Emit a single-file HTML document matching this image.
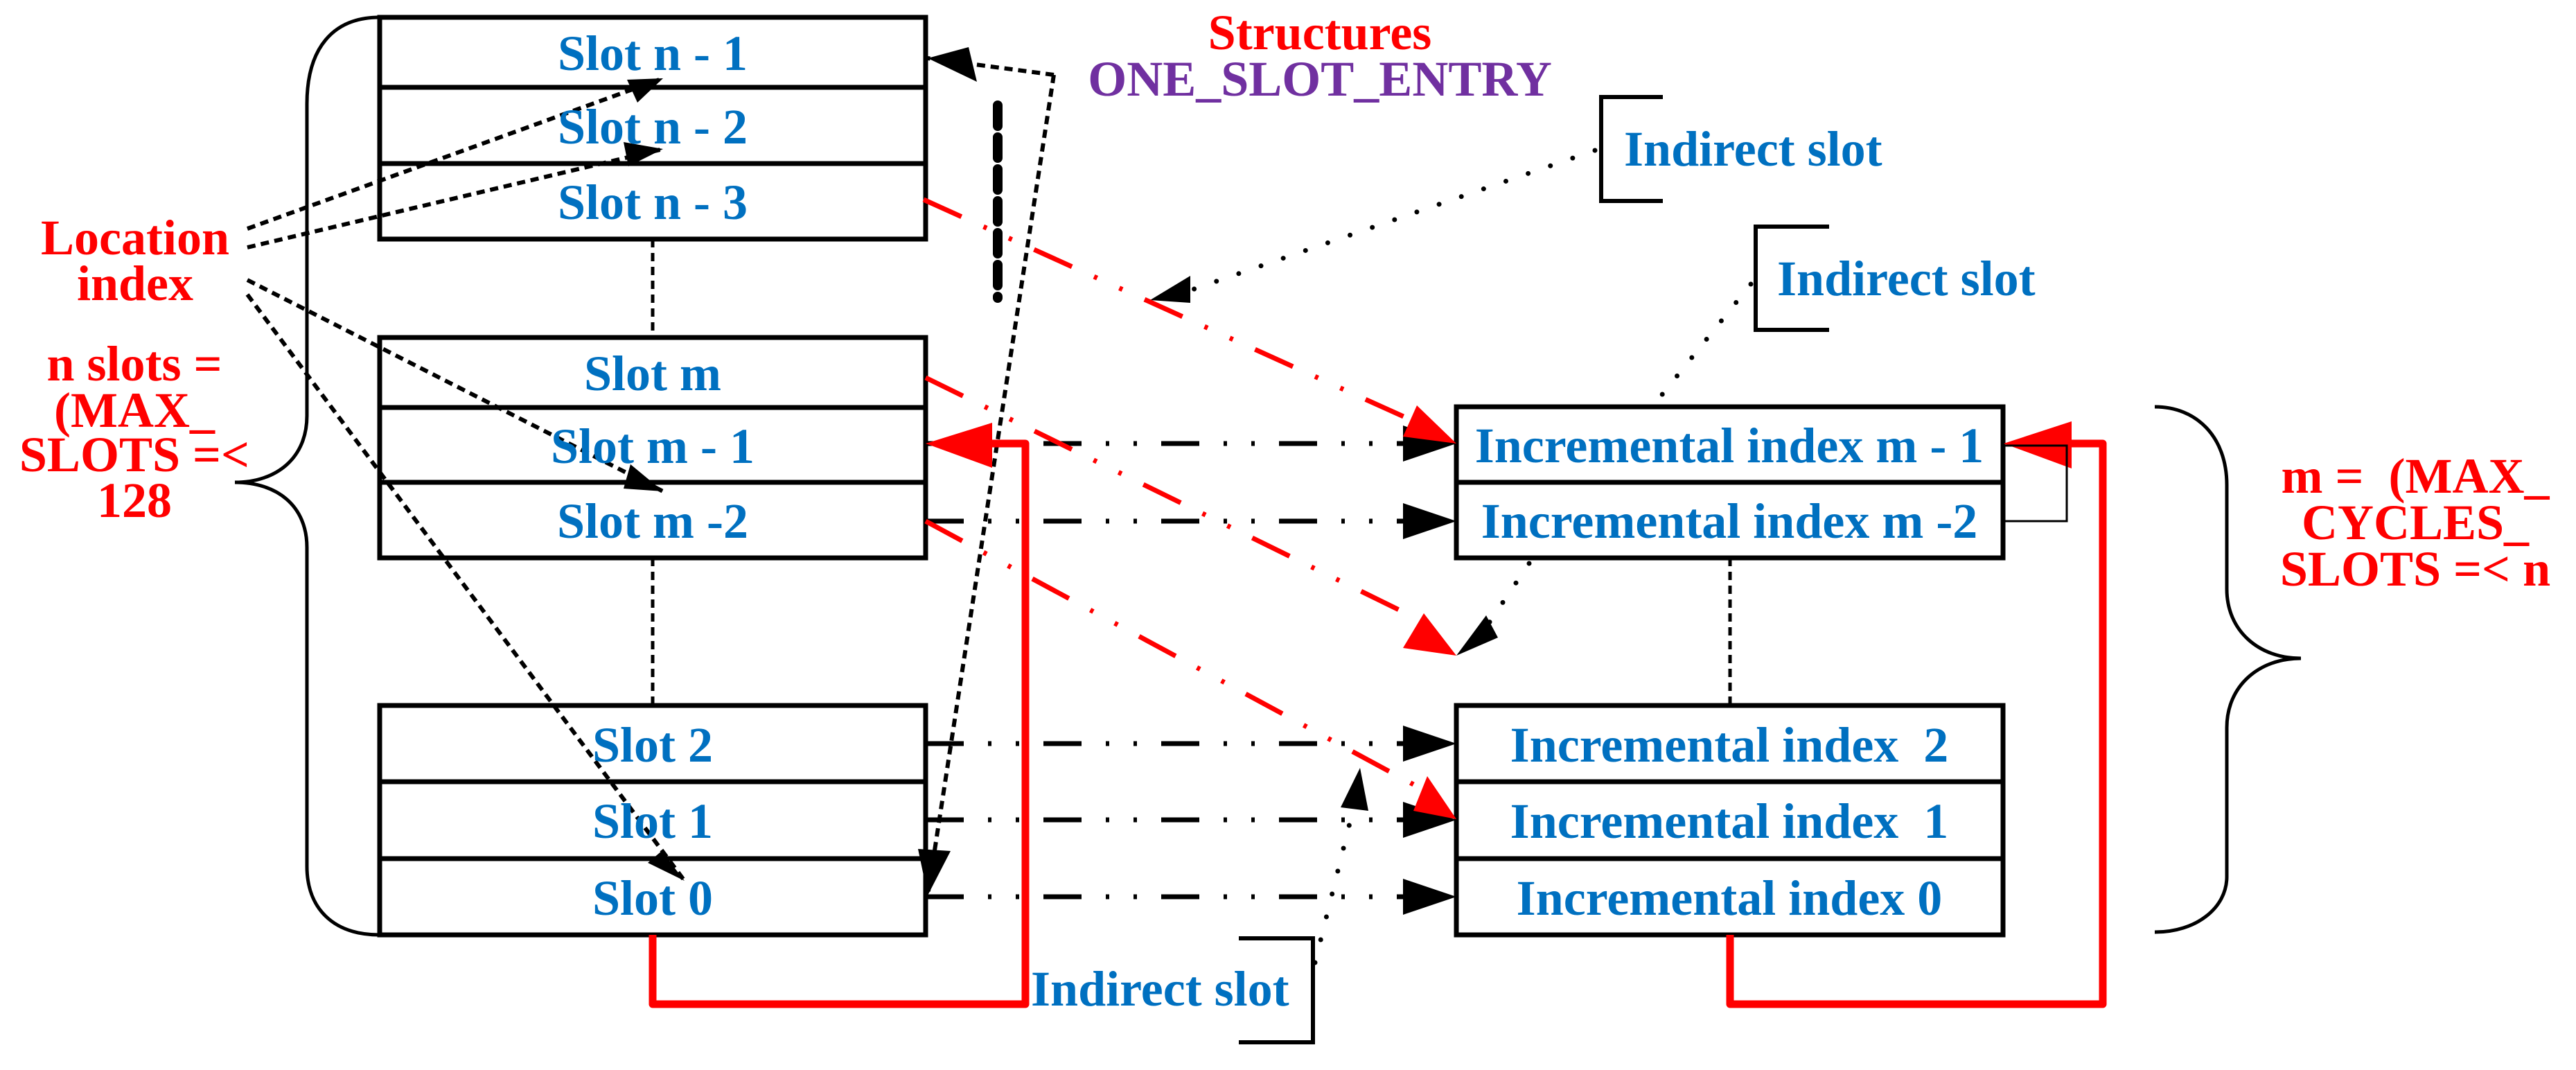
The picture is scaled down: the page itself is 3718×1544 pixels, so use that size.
<!DOCTYPE html>
<html><head><meta charset="utf-8"><style>
html,body{margin:0;padding:0;background:#fff;}
svg{display:block;}
text{font-family:"Liberation Serif",serif;font-weight:bold;}
.b{fill:#0070C0;font-size:72px;text-anchor:middle;}
.r{fill:#FF0000;font-size:72px;text-anchor:middle;}
</style></head><body>
<svg width="3718" height="1544" viewBox="0 0 3718 1544" xmlns="http://www.w3.org/2000/svg">
<defs>
<marker id="ab" markerWidth="10" markerHeight="8" refX="10" refY="4" orient="auto" markerUnits="userSpaceOnUse" viewBox="0 0 10 8"><path d="M0,0 L10,4 L0,8 z" fill="#000"/></marker>
</defs>
<g fill="none" stroke="#000" stroke-width="7">
<!-- left boxes -->
<rect x="548" y="25" width="788" height="320"/>
<line x1="548" y1="126" x2="1336" y2="126"/><line x1="548" y1="236" x2="1336" y2="236"/>
<rect x="548" y="487" width="788" height="318"/>
<line x1="548" y1="588" x2="1336" y2="588"/><line x1="548" y1="696" x2="1336" y2="696"/>
<rect x="548" y="1018" width="788" height="331"/>
<line x1="548" y1="1128" x2="1336" y2="1128"/><line x1="548" y1="1239" x2="1336" y2="1239"/>
<!-- right boxes -->
<rect x="2102" y="587" width="789" height="218"/>
<line x1="2102" y1="696" x2="2891" y2="696"/>
<rect x="2102" y="1018" width="789" height="331"/>
<line x1="2102" y1="1128" x2="2891" y2="1128"/><line x1="2102" y1="1239" x2="2891" y2="1239"/>
<!-- braces -->
<path d="M548,25 C480,25 443,70 443,150 L443,600 C443,660 400,696 339,696 C400,696 443,730 443,790 L443,1250 C443,1310 480,1349 548,1349" stroke-width="5"/>
<path d="M3110,587 C3170,587 3214,630 3214,700 L3214,850 C3214,910 3260,950 3321,950 C3260,950 3214,990 3214,1050 L3214,1265 C3214,1310 3170,1345 3110,1345" stroke-width="5"/>
<!-- brackets -->
<path d="M2400,140 L2311,140 L2311,290 L2400,290" stroke-width="6"/>
<path d="M2640,327 L2534,327 L2534,476 L2640,476" stroke-width="6"/>
<path d="M1788,1354 L1895,1354 L1895,1504 L1788,1504" stroke-width="6"/>
</g>
<!-- dotted verticals -->
<g stroke="#000" stroke-width="5" stroke-dasharray="12 8" fill="none">
<line x1="942" y1="345" x2="942" y2="487"/>
<line x1="942" y1="805" x2="942" y2="1018"/>
<line x1="2497" y1="805" x2="2497" y2="1018"/>
</g>
<!-- location index arrows -->
<g stroke="#000" stroke-width="6" stroke-dasharray="12 8" fill="none" marker-end="url(#ab)">
<line x1="357" y1="330" x2="957" y2="113" marker-end="none"/>
<line x1="357" y1="357" x2="957" y2="215" marker-end="none"/>
<line x1="357" y1="404" x2="957" y2="709" marker-end="none"/>
<line x1="357" y1="425" x2="988" y2="1271" marker-end="none"/>
<polyline points="1521,108 1339,84" marker-end="none"/>
<line x1="1521" y1="108" x2="1339" y2="1292" marker-end="none"/>
</g>
<g fill="#000">
<path d="M957,113 L905,115 L920,148 z"/>
<path d="M957,215 L900,205 L907,240 z"/>
<path d="M957,709 L910,670 L900,705 z"/>
<path d="M988,1271 L955,1228 L935,1245 z"/>
<path d="M1339,84 L1398,68 L1410,118 z"/>
<path d="M1339,1292 L1325,1225 L1372,1228 z"/>
<path d="M1660,433 L1718,398 L1718,437 z"/>
<path d="M2102,946 L2145,888 L2162,920 z"/>
<path d="M1963,1108 L1935,1165 L1975,1170 z"/>
</g>
<!-- thick dashed -->
<line x1="1440" y1="152" x2="1440" y2="430" stroke="#000" stroke-width="14" stroke-dasharray="30 16" stroke-linecap="round"/>
<!-- dotted round -->
<g stroke="#000" stroke-width="7" stroke-dasharray="0 34" stroke-linecap="round" fill="none">
<line x1="2302" y1="217" x2="1715" y2="420"/>
<line x1="2527" y1="410" x2="2388" y2="583"/>
<line x1="2207" y1="813" x2="2145" y2="905"/>
<line x1="1898" y1="1389" x2="1955" y2="1160"/>
</g>
<!-- black dash-dot horizontals -->
<g stroke="#000" stroke-width="7" stroke-dasharray="55 35 5 35 5 35" fill="none">
<line x1="1336" y1="640" x2="2030" y2="640"/>
<line x1="1336" y1="752" x2="2030" y2="752"/>
<line x1="1336" y1="1073" x2="2030" y2="1073"/>
<line x1="1336" y1="1183" x2="2030" y2="1183"/>
<line x1="1336" y1="1294" x2="2030" y2="1294"/>
</g>
<g fill="#000">
<path d="M2102,640 L2025,614 L2025,666 z"/>
<path d="M2102,752 L2025,726 L2025,778 z"/>
<path d="M2102,1073 L2025,1047 L2025,1099 z"/>
<path d="M2102,1183 L2025,1157 L2025,1209 z"/>
<path d="M2102,1294 L2025,1268 L2025,1320 z"/>
</g>
<!-- red dash-dot-dot -->
<g stroke="#FF0000" stroke-width="7" stroke-dasharray="60 35 5 35 5 35" fill="none">
<line x1="1333" y1="288" x2="2050" y2="612"/>
<line x1="1336" y1="545" x2="2060" y2="900"/>
<line x1="1336" y1="752" x2="2055" y2="1140"/>
</g>
<g fill="#FF0000">
<path d="M2102,640 L2025,630 L2045,585 z"/>
<path d="M2102,946 L2025,935 L2055,885 z"/>
<path d="M2102,1182 L2040,1170 L2060,1120 z"/>
</g>
<!-- red solid loops -->
<g stroke="#FF0000" stroke-width="11" fill="none" stroke-linejoin="round">
<polyline points="942,1349 942,1449 1480,1449 1480,640 1420,640"/>
<polyline points="2497,1349 2497,1449 3035,1449 3035,640 2980,640"/>
</g>
<g fill="#FF0000">
<path d="M1336,640 L1432,610 L1432,675 z"/>
<path d="M2892,640 L2990,608 L2990,676 z"/>
</g>
<polyline points="2891,752 2983,752 2983,643 2891,643" fill="none" stroke="#000" stroke-width="3"/>
<!-- texts -->
<text class="b" x="942" y="101">Slot n - 1</text>
<text class="b" x="942" y="207">Slot n - 2</text>
<text class="b" x="942" y="316">Slot n - 3</text>
<text class="b" x="942" y="563">Slot m</text>
<text class="b" x="942" y="668">Slot m - 1</text>
<text class="b" x="942" y="776">Slot m -2</text>
<text class="b" x="942" y="1099">Slot 2</text>
<text class="b" x="942" y="1209">Slot 1</text>
<text class="b" x="942" y="1320">Slot 0</text>
<text class="b" x="2496" y="667">Incremental index m - 1</text>
<text class="b" x="2496" y="776">Incremental index m -2</text>
<text class="b" x="2496" y="1099" xml:space="preserve">Incremental index  2</text>
<text class="b" x="2496" y="1209" xml:space="preserve">Incremental index  1</text>
<text class="b" x="2496" y="1320">Incremental index 0</text>
<text class="b" x="2344" y="239" style="text-anchor:start">Indirect slot</text>
<text class="b" x="2565" y="426" style="text-anchor:start">Indirect slot</text>
<text class="b" x="1488" y="1451" style="text-anchor:start">Indirect slot</text>
<text class="r" x="195" y="367">Location</text>
<text class="r" x="195" y="433">index</text>
<text class="r" x="194" y="549">n slots =</text>
<text class="r" x="194" y="616">(MAX_</text>
<text class="r" x="194" y="680">SLOTS =&lt;</text>
<text class="r" x="194" y="746">128</text>
<text class="r" x="1905" y="71">Structures</text>
<text x="1905" y="138" style="fill:#7030A0;font-size:72px;text-anchor:middle">ONE_SLOT_ENTRY</text>
<text class="r" x="3486" y="711" xml:space="preserve">m =  (MAX_</text>
<text class="r" x="3486" y="778">CYCLES_</text>
<text class="r" x="3486" y="845">SLOTS =&lt; n</text>
</svg>
</body></html>
